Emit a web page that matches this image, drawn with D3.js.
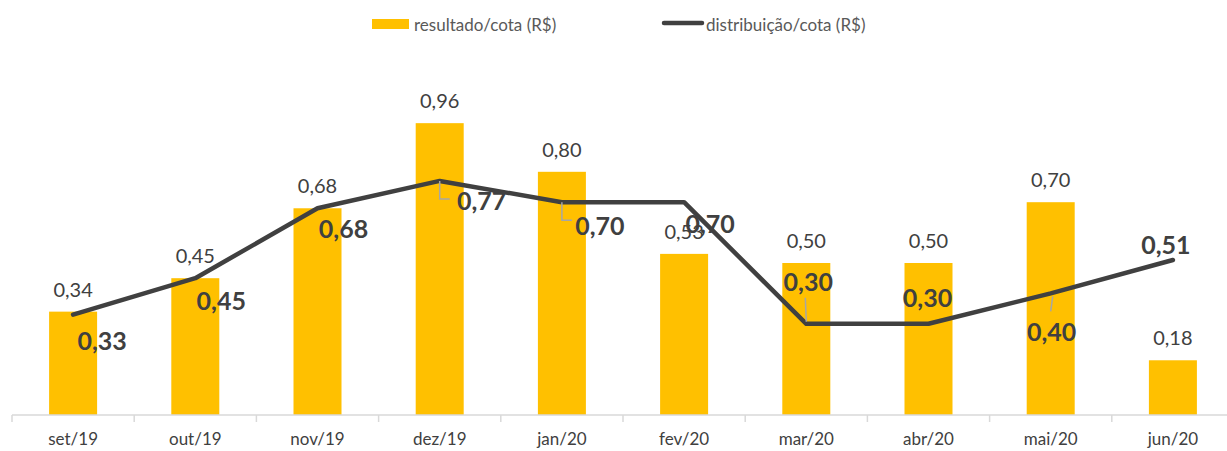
<!DOCTYPE html>
<html>
<head>
<meta charset="utf-8">
<script src="https://cdn.jsdelivr.net/npm/d3@7"></script>
<style>
  body { margin: 0; background: #fff; }
  svg { display: block; font-family: "Lato", "Open Sans", sans-serif; }
</style>
</head>
<body>
<div id="chart"></div>
<script>
// chart values
var categories = ["set/19", "out/19", "nov/19", "dez/19", "jan/20", "fev/20", "mar/20", "abr/20", "mai/20", "jun/20"];
var resultado = [0.34, 0.45, 0.68, 0.96, 0.80, 0.53, 0.50, 0.50, 0.70, 0.18];
var distribuicao = [0.33, 0.45, 0.68, 0.77, 0.70, 0.70, 0.30, 0.30, 0.40, 0.51];
var seriesNames = ["resultado/cota (R$)", "distribuição/cota (R$)"];

// where each bold label sits, relative to its line point
var lineLabelOffsets = [[29, 25], [26, 22], [26, 20], [42, 19], [38, 23], [26, 21], [2, -43], [-1, -27], [1, 38], [-7, -16]];
// which labels get a leader line back to the point
var leaderKind = ["", "", "", "elbow", "elbow", "", "up", "", "down", ""];

(function () {
    var width = 1227, height = 451;
    var baseline = 415;

    var svg = d3.select("#chart").append("svg")
        .attr("width", width)
        .attr("height", height);

    var x = d3.scaleBand()
        .domain(categories)
        .range([12, 1234])
        .paddingInner(0)
        .paddingOuter(0);

    var y = d3.scaleLinear()
        .domain([0, 1])
        .range([baseline, baseline - 304]);

    var barW = 48;
    var cx = function (i) { return x(categories[i]) + x.bandwidth() / 2; };

    // bars
    svg.selectAll(".bar")
        .data(resultado)
        .enter().append("rect")
        .attr("class", "bar")
        .attr("x", function (d, i) { return cx(i) - barW / 2; })
        .attr("y", function (d) { return y(d); })
        .attr("width", barW)
        .attr("height", function (d) { return baseline - y(d); })
        .attr("fill", "#FFC000");

    // x axis
    var xAxis = d3.axisBottom(x).tickSize(0).tickPadding(18);
    var gx = svg.append("g")
        .attr("transform", "translate(0," + baseline + ")")
        .call(xAxis);
    gx.select(".domain").remove();
    gx.selectAll("text")
        .style("font-size", "17px")
        .style("fill", "#404040")
        .style("font-family", "Lato, sans-serif");

    svg.append("line")
        .attr("x1", 12).attr("x2", width)
        .attr("y1", baseline).attr("y2", baseline)
        .attr("stroke", "#d9d9d9").attr("stroke-width", 1.5);

    svg.selectAll(".tickmark")
        .data(categories)
        .enter().append("line")
        .attr("class", "tickmark")
        .attr("x1", function (d) { return x(d); })
        .attr("x2", function (d) { return x(d); })
        .attr("y1", baseline).attr("y2", baseline + 7)
        .attr("stroke", "#d9d9d9").attr("stroke-width", 1.5);

    // bar value labels
    var fmt = function (v) { return d3.format(".2f")(v).replace(".", ","); };
    svg.selectAll(".barlabel")
        .data(resultado)
        .enter().append("text")
        .attr("class", "barlabel")
        .attr("x", function (d, i) { return cx(i); })
        .attr("y", function (d) { return y(d) - 15; })
        .attr("text-anchor", "middle")
        .style("font-size", "20px")
        .style("fill", "#404040")
        .text(fmt);

    // line
    var line = d3.line()
        .x(function (d, i) { return cx(i); })
        .y(function (d) { return y(d); });

    svg.append("path")
        .datum(distribuicao)
        .attr("d", line)
        .attr("fill", "none")
        .attr("stroke", "#404040")
        .attr("stroke-width", 4.5)
        .attr("stroke-linejoin", "round")
        .attr("stroke-linecap", "round");

    // leader lines
    distribuicao.forEach(function (d, i) {
        var px = cx(i), py = y(d);
        var k = leaderKind[i];
        var p = null;
        if (k == "elbow") {
            p = "M" + px + "," + py + "V" + (py + 18) + "H" + (px + 10);
        } else if (k == "up") {
            p = "M" + px + "," + (py - 2) + "L" + (px - 1) + "," + (py - 26);
        } else if (k == "down") {
            p = "M" + (px + 2) + "," + (py + 3) + "L" + px + "," + (py + 18);
        }
        if (p) {
            svg.append("path").attr("d", p)
                .attr("fill", "none")
                .attr("stroke", "#a6a6a6")
                .attr("stroke-width", 1.5);
        }
    });

    // line value labels
    svg.selectAll(".linelabel")
        .data(distribuicao)
        .enter().append("text")
        .attr("class", "linelabel")
        .attr("x", function (d, i) { return cx(i) + lineLabelOffsets[i][0]; })
        .attr("y", function (d, i) { return y(d) + lineLabelOffsets[i][1]; })
        .attr("text-anchor", "middle")
        .attr("dominant-baseline", "central")
        .style("font-size", "25px")
        .style("font-weight", 700)
        .style("fill", "#404040")
        .text(fmt);

    // legend
    var legend = svg.append("g");
    legend.append("rect")
        .attr("x", 372).attr("y", 19)
        .attr("width", 37).attr("height", 10)
        .attr("fill", "#FFC000");
    legend.append("text")
        .attr("x", 414).attr("y", 24)
        .attr("dominant-baseline", "central")
        .style("font-size", "17px")
        .style("fill", "#595959")
        .text(seriesNames[0]);
    legend.append("line")
        .attr("x1", 664).attr("x2", 702)
        .attr("y1", 23).attr("y2", 23)
        .attr("stroke", "#404040")
        .attr("stroke-width", 4.5)
        .attr("stroke-linecap", "round");
    legend.append("text")
        .attr("x", 706).attr("y", 24)
        .attr("dominant-baseline", "central")
        .style("font-size", "17px")
        .style("fill", "#595959")
        .text(seriesNames[1]);
})();
</script>
</body>
</html>
